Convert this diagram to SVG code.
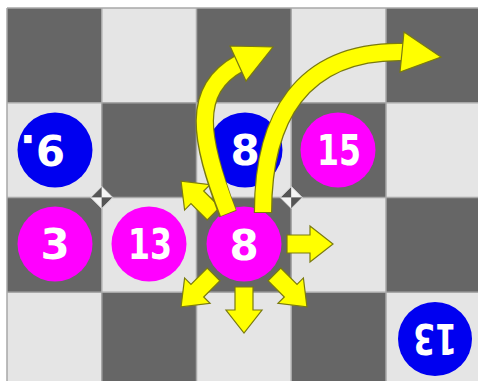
<svg xmlns="http://www.w3.org/2000/svg" xmlns:xlink="http://www.w3.org/1999/xlink" width="478" height="381" viewBox="0 0 478 381">
<style>
.d{fill:#666666}
.l{fill:#e5e5e5}
.grid{stroke:#a8a8a8;stroke-width:1.5;fill:none}
.blue{fill:#0000f0}
.mag{fill:#ff00ff}
.num{font-family:"DejaVu Sans","Liberation Sans",sans-serif;font-weight:bold;font-size:42px;fill:#ffffff;text-anchor:middle}
.arr{fill:#ffff00;stroke:#7a7a10;stroke-width:1.2;stroke-linejoin:miter}
.shO{fill:none;stroke:#7a7a10;stroke-width:18.5}
.shI{fill:none;stroke:#ffff00;stroke-width:16}
.dd{fill:#555555}
.dl{fill:#f4f4f4}
</style>
<defs>
<polygon id="sa" class="arr" points="43,-9 66,-9 66,-18 89,0 66,18 66,9 43,9"/>
<g id="dia">
<polygon class="dd" points="0,0 -11,0 0,-11"/>
<polygon class="dl" points="0,0 11,0 0,-11"/>
<polygon class="dl" points="0,0 -11,0 0,11"/>
<polygon class="dd" points="0,0 11,0 0,11"/>
<polygon points="-11,0 0,-11 11,0 0,11" fill="none" stroke="#d8d8d8" stroke-width="1"/>
</g>
</defs>
<rect width="478" height="381" fill="#ffffff"/>
<g id="board">
<rect class="d" x="7" y="8" width="94.75" height="94.75"/>
<rect class="l" x="101.75" y="8" width="94.75" height="94.75"/>
<rect class="d" x="196.5" y="8" width="94.75" height="94.75"/>
<rect class="l" x="291.25" y="8" width="94.75" height="94.75"/>
<rect class="d" x="386" y="8" width="94.75" height="94.75"/>
<rect class="l" x="7" y="102.75" width="94.75" height="94.75"/>
<rect class="d" x="101.75" y="102.75" width="94.75" height="94.75"/>
<rect class="l" x="196.5" y="102.75" width="94.75" height="94.75"/>
<rect class="d" x="291.25" y="102.75" width="94.75" height="94.75"/>
<rect class="l" x="386" y="102.75" width="94.75" height="94.75"/>
<rect class="d" x="7" y="197.5" width="94.75" height="94.75"/>
<rect class="l" x="101.75" y="197.5" width="94.75" height="94.75"/>
<rect class="d" x="196.5" y="197.5" width="94.75" height="94.75"/>
<rect class="l" x="291.25" y="197.5" width="94.75" height="94.75"/>
<rect class="d" x="386" y="197.5" width="94.75" height="94.75"/>
<rect class="l" x="7" y="292.25" width="94.75" height="94.75"/>
<rect class="d" x="101.75" y="292.25" width="94.75" height="94.75"/>
<rect class="l" x="196.5" y="292.25" width="94.75" height="94.75"/>
<rect class="d" x="291.25" y="292.25" width="94.75" height="94.75"/>
<rect class="l" x="386" y="292.25" width="94.75" height="94.75"/>
<path class="grid" d="M7 8V381M101.75 8V381M196.5 8V381M291.25 8V381M386 8V381M7 8H478M7 102.75H478M7 197.5H478M7 292.25H478"/>
<use xlink:href="#dia" href="#dia" transform="translate(101.75 197.5)"/>
<use xlink:href="#dia" href="#dia" transform="translate(291.25 197.5)"/>
</g>
<g id="p-9">
<circle class="blue" cx="55" cy="150" r="37.5"/>
<text class="num" x="45" y="165" style="text-anchor:start" transform="rotate(180 55 150)">9.</text>
</g>
<g id="p-8-blue">
<circle class="blue" cx="245" cy="150" r="37.5"/>
<text class="num" x="245" y="165">8</text>
</g>
<g id="p-15">
<circle class="mag" cx="338" cy="150" r="37.5"/>
<text class="num" x="339" y="165" textLength="44" lengthAdjust="spacingAndGlyphs">15</text>
</g>
<g id="p-3">
<circle class="mag" cx="55" cy="244" r="37.5"/>
<text class="num" x="55" y="259">3</text>
</g>
<g id="p-13">
<circle class="mag" cx="149" cy="244" r="37.5"/>
<text class="num" x="150" y="259" textLength="44" lengthAdjust="spacingAndGlyphs">13</text>
</g>
<g id="p-8-mag">
<circle class="mag" cx="244" cy="244" r="37.5"/>
<text class="num" x="244" y="260">8</text>
</g>
<g id="p-13-rot">
<circle class="blue" cx="435" cy="339" r="37"/>
<text class="num" x="435" y="354" textLength="44" lengthAdjust="spacingAndGlyphs" transform="rotate(180 435 339)">13</text>
</g>
<g id="connectors">
<use xlink:href="#sa" href="#sa" transform="translate(244 244)"/>
<use xlink:href="#sa" href="#sa" transform="translate(244 244) rotate(45)"/>
<use xlink:href="#sa" href="#sa" transform="translate(244 244) rotate(90)"/>
<use xlink:href="#sa" href="#sa" transform="translate(244 244) rotate(135)"/>
<use xlink:href="#sa" href="#sa" transform="translate(244 244) rotate(225)"/>
<path class="shO" d="M228 214C200 140 190 90 240 63"/>
<path class="shI" d="M228.3 213C200 140 190 90 240 63"/>
<polygon class="arr" points="230,46 273,47 246,81"/>
<path class="shO" d="M263 213C263 120 300 50 403 52"/>
<path class="shI" d="M263 212C263 120 300 50 403 52"/>
<polygon class="arr" points="404,32 441,57 400,72"/>
</g>
</svg>
